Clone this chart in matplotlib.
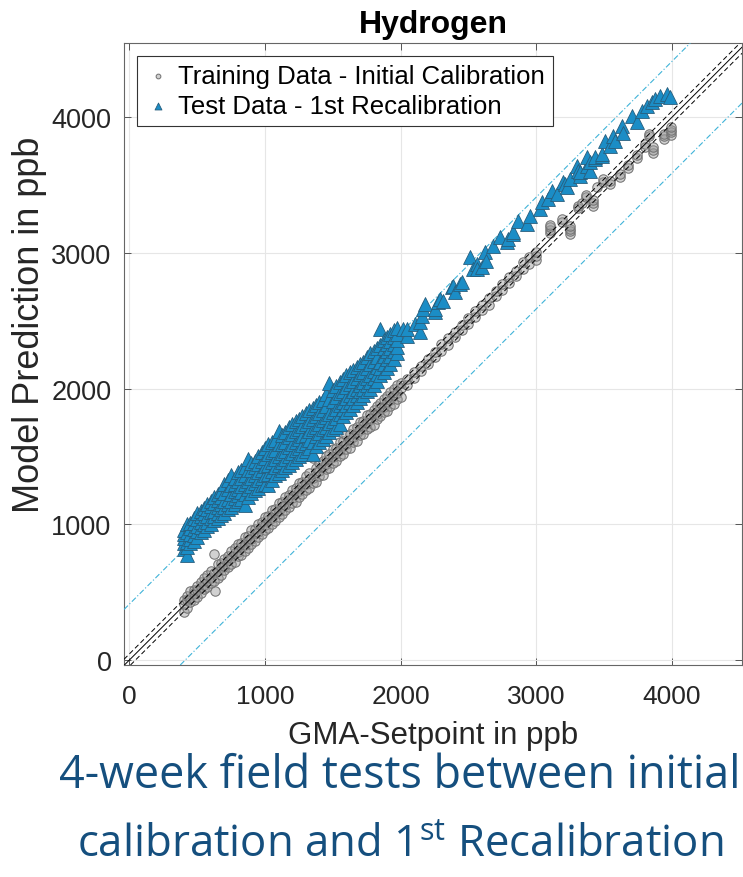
import matplotlib
matplotlib.use("Agg")
import matplotlib.pyplot as plt

plt.rcParams['font.family'] = ['Liberation Sans', 'DejaVu Sans']
plt.rcParams['mathtext.fontset'] = 'custom'
plt.rcParams['mathtext.rm'] = 'Open Sans'

# ---------------- data ----------------
title = "Hydrogen"
xlabel = "GMA-Setpoint in ppb"
ylabel = "Model Prediction in ppb"
legend_labels = ["Training Data - Initial Calibration", "Test Data - 1st Recalibration"]
ticks = [0, 1000, 2000, 3000, 4000]
ref_dashed_offset = [-45, 45]
ref_dashdot_offset = [-412, 412]

train_x = [
    400, 400, 400, 425, 425, 425, 450, 450, 450, 475, 475, 475, 500, 500, 500,
    525, 525, 525, 550, 550, 550, 575, 575, 575, 600, 600, 600, 625, 625, 625,
    630, 650, 650, 650, 675, 675, 675, 700, 700, 700, 725, 725, 725, 750, 750, 750,
    775, 775, 775, 800, 800, 800, 825, 825, 825, 850, 850, 850, 875, 875, 875,
    900, 900, 900, 925, 925, 925, 950, 950, 950, 975, 975, 975, 1000, 1000, 1000,
    1025, 1025, 1025, 1050, 1050, 1050, 1075, 1075, 1075, 1100, 1100, 1100,
    1125, 1125, 1125, 1150, 1150, 1150, 1175, 1175, 1175, 1200, 1200, 1200,
    1225, 1225, 1225, 1250, 1250, 1250, 1275, 1275, 1275, 1300, 1300, 1300,
    1325, 1325, 1325, 1350, 1350, 1350, 1375, 1375, 1375, 1400, 1400, 1400,
    1425, 1425, 1425, 1450, 1450, 1450, 1475, 1475, 1475, 1500, 1500, 1500,
    1525, 1525, 1525, 1550, 1550, 1550, 1575, 1575, 1575, 1600, 1600, 1600,
    1625, 1625, 1625, 1650, 1650, 1650, 1675, 1675, 1675, 1700, 1700, 1700,
    1725, 1725, 1725, 1750, 1750, 1750, 1775, 1775, 1775, 1800, 1800, 1800,
    1825, 1825, 1825, 1850, 1850, 1850, 1875, 1875, 1875, 1900, 1900, 1900,
    1925, 1925, 1925, 1950, 1950, 1950, 1975, 1975, 1975, 2000, 2000, 2000,
    2050, 2050, 2100, 2100, 2150, 2150, 2200, 2200, 2250, 2250, 2300, 2300,
    2350, 2350, 2400, 2400, 2450, 2450, 2500, 2500, 2550, 2550, 2600, 2600,
    2650, 2650, 2700, 2700, 2750, 2750, 2800, 2800, 2850, 2850, 2900, 2900,
    2950, 2950, 3000, 3000, 3000, 3100, 3100, 3100, 3100, 3190, 3190,
    3250, 3250, 3250, 3250, 3310, 3310, 3340, 3370, 3370, 3420, 3420, 3420,
    3450, 3490, 3490, 3540, 3540, 3620, 3620, 3680, 3680, 3740, 3740,
    3800, 3800, 3830, 3830, 3860, 3860, 3860, 3940, 3940, 3940,
    3990, 3990, 3990, 3990,
]
train_y = [
    355, 410, 445, 385, 445, 470, 425, 455, 505, 440, 495, 515, 465, 515, 545,
    495, 535, 575, 525, 555, 605, 535, 585, 625, 565, 605, 655, 585, 640, 780,
    510, 605, 655, 705, 625, 685, 715, 665, 695, 745, 685, 735, 765, 705, 755, 805,
    725, 785, 825, 765, 795, 855, 775, 835, 865, 805, 845, 905, 825, 885, 915,
    855, 895, 955, 875, 935, 965, 905, 945, 1005, 925, 985, 1015, 955, 995, 1055,
    975, 1035, 1065, 1005, 1045, 1105, 1025, 1085, 1115, 1055, 1095, 1155,
    1075, 1125, 1165, 1105, 1145, 1205, 1125, 1185, 1215, 1155, 1195, 1255,
    1165, 1235, 1265, 1205, 1245, 1305, 1225, 1285, 1315, 1255, 1295, 1355,
    1265, 1335, 1375, 1305, 1345, 1490, 1315, 1385, 1415, 1355, 1395, 1455,
    1365, 1425, 1465, 1405, 1445, 1505, 1415, 1485, 1515, 1455, 1495, 1555,
    1465, 1525, 1565, 1505, 1545, 1605, 1515, 1575, 1615, 1555, 1595, 1655,
    1565, 1625, 1665, 1605, 1645, 1705, 1615, 1675, 1715, 1655, 1695, 1755,
    1665, 1725, 1765, 1705, 1745, 1805, 1715, 1775, 1815, 1735, 1805, 1845,
    1775, 1815, 1875, 1795, 1855, 1895, 1825, 1865, 1925, 1835, 1905, 1945,
    1875, 1915, 1975, 1885, 1955, 1995, 1925, 1965, 2025, 1935, 2005, 2045,
    2030, 2070, 2080, 2120, 2130, 2170, 2180, 2220, 2230, 2270, 2280, 2330,
    2320, 2370, 2380, 2420, 2430, 2470, 2480, 2520, 2530, 2570, 2580, 2620,
    2620, 2670, 2680, 2720, 2730, 2770, 2780, 2820, 2830, 2870, 2880, 2930,
    2920, 2970, 2950, 2980, 3010, 3150, 3170, 3190, 3210, 3230, 3250,
    3140, 3160, 3180, 3200, 3330, 3350, 3370, 3410, 3430, 3350, 3370, 3390,
    3490, 3520, 3545, 3510, 3530, 3560, 3580, 3630, 3650, 3700, 3720,
    3780, 3800, 3860, 3880, 3740, 3760, 3780, 3840, 3860, 3880,
    3870, 3890, 3910, 3930,
]

# dense part of the test set: setpoint with five readings each
test_dense_x = [
    400, 425, 450, 475, 500, 525, 550, 575, 600, 625, 650, 675, 700, 725, 750,
    775, 800, 825, 850, 875, 900, 925, 950, 975, 1000, 1025, 1050, 1075, 1100,
    1125, 1150, 1175, 1200, 1225, 1250, 1275, 1300, 1325, 1350, 1375, 1400,
    1425, 1450, 1475, 1500, 1525, 1550, 1575, 1600, 1625, 1650, 1675, 1700,
    1725, 1750, 1775, 1800, 1825, 1850, 1875, 1900, 1925, 1950, 1975,
]
test_dense_y = [
    [820, 860, 900, 930, 960], [775, 830, 870, 940, 1000], [860, 890, 930, 970, 1010],
    [880, 920, 965, 1010, 1050], [905, 950, 990, 1040, 1085], [940, 980, 1020, 1060, 1100],
    [960, 1000, 1045, 1085, 1120], [985, 1020, 1060, 1110, 1150], [1000, 1045, 1090, 1135, 1175],
    [1030, 1065, 1100, 1160, 1200], [1045, 1085, 1130, 1180, 1225], [1070, 1110, 1150, 1205, 1245],
    [1085, 1130, 1170, 1230, 1300], [1110, 1150, 1190, 1260, 1330], [1130, 1175, 1220, 1290, 1360],
    [1150, 1195, 1245, 1300, 1340], [1170, 1215, 1260, 1320, 1385], [1190, 1235, 1280, 1345, 1400],
    [1140, 1220, 1300, 1360, 1420], [1200, 1260, 1320, 1400, 1480], [1230, 1285, 1340, 1400, 1450],
    [1250, 1305, 1360, 1420, 1470], [1270, 1330, 1385, 1445, 1500], [1290, 1345, 1400, 1465, 1530],
    [1300, 1365, 1430, 1490, 1560], [1290, 1370, 1440, 1515, 1590], [1330, 1395, 1460, 1535, 1610],
    [1360, 1420, 1480, 1550, 1620], [1380, 1440, 1500, 1590, 1690], [1400, 1460, 1525, 1590, 1660],
    [1420, 1480, 1540, 1610, 1680], [1440, 1505, 1570, 1645, 1720], [1460, 1525, 1590, 1665, 1740],
    [1480, 1545, 1610, 1685, 1760], [1500, 1565, 1630, 1705, 1780], [1520, 1585, 1650, 1725, 1800],
    [1540, 1600, 1660, 1740, 1820], [1560, 1625, 1690, 1765, 1840], [1520, 1610, 1700, 1780, 1860],
    [1580, 1650, 1720, 1800, 1880], [1610, 1675, 1740, 1820, 1900], [1630, 1700, 1770, 1845, 1920],
    [1650, 1720, 1790, 1875, 1960], [1680, 1745, 1810, 1925, 2040], [1700, 1765, 1830, 1910, 1990],
    [1720, 1785, 1850, 1935, 2020], [1740, 1810, 1880, 1965, 2050], [1800, 1850, 1900, 1985, 2070],
    [1830, 1880, 1930, 2015, 2100], [1850, 1900, 1950, 2035, 2120], [1880, 1930, 1980, 2060, 2140],
    [1900, 1950, 2000, 2080, 2160], [1930, 1980, 2030, 2105, 2180], [1950, 2000, 2050, 2125, 2200],
    [1980, 2030, 2080, 2155, 2230], [2000, 2050, 2100, 2180, 2260], [2030, 2080, 2130, 2205, 2280],
    [2060, 2110, 2160, 2230, 2300], [2100, 2150, 2200, 2320, 2440], [2120, 2180, 2240, 2300, 2360],
    [2150, 2215, 2280, 2330, 2380], [2180, 2240, 2300, 2350, 2400], [2220, 2275, 2330, 2380, 2430],
    [2260, 2310, 2360, 2405, 2450],
]
# sparse part of the test set
test_sparse_x = [
    2019, 2044, 2044, 2105, 2142, 2142, 2154, 2167, 2179, 2253, 2253, 2277,
    2290, 2314, 2376, 2388, 2400, 2437, 2450, 2511, 2536, 2560, 2560, 2597,
    2622, 2629, 2683, 2732, 2781, 2794, 2830, 2830, 2867, 2929, 2953, 3027,
    3040, 3088, 3113, 3150, 3199, 3212, 3224, 3248, 3298, 3310, 3322, 3322,
    3372, 3372, 3396, 3396, 3433, 3433, 3482, 3482, 3507, 3543, 3568, 3580,
    3630, 3642, 3703, 3740, 3777, 3814, 3851, 3875, 3912, 3961, 3985,
]
test_sparse_y = [
    2439, 2390, 2439, 2476, 2415, 2488, 2537, 2587, 2623, 2562, 2587, 2636,
    2660, 2648, 2746, 2758, 2710, 2771, 2783, 2968, 2881, 2918, 2881, 2894,
    3004, 2942, 3053, 3115, 3078, 3102, 3139, 3154, 3237, 3213, 3274, 3323,
    3373, 3397, 3458, 3434, 3520, 3508, 3483, 3545, 3643, 3606, 3569, 3594,
    3643, 3704, 3606, 3668, 3692, 3704, 3716, 3729, 3827, 3790, 3864, 3827,
    3937, 3888, 4011, 3962, 4048, 4085, 4110, 4134, 4158, 4171, 4150,
]

test_x = [x for x, ys in zip(test_dense_x, test_dense_y) for _ in ys] + test_sparse_x
test_y = [y for ys in test_dense_y for y in ys] + test_sparse_y

# ---------------- figure ----------------
W, H = 743, 878
fig = plt.figure(figsize=(W / 100, H / 100), dpi=100)
ax = fig.add_axes([124 / W, 1 - 666 / H, 618 / W, 622 / H])

xlim = (-40, 4517)
ylim = (-37, 4548)

ax.scatter(train_x, train_y, s=46, marker='o', facecolors=(0.6, 0.6, 0.6, 0.45),
           edgecolors='#747474', linewidths=0.75, zorder=2, label=legend_labels[0])

ax.axline((0, 0), slope=1, color='black', lw=0.7, zorder=3)
for off in ref_dashed_offset:
    ax.axline((0, off), slope=1, color='black', lw=0.7, ls=(0, (5, 3)), zorder=3)
for off in ref_dashdot_offset:
    ax.axline((0, off), slope=1, color='#3fb3d8', lw=0.8, ls=(0, (5, 2, 1, 2)), zorder=3)

ax.scatter(test_x, test_y, s=100, marker='^', facecolors='#1b8dc6',
           edgecolors='#275d7c', linewidths=0.6, zorder=4, label=legend_labels[1])

ax.set_xlim(*xlim)
ax.set_ylim(*ylim)
ax.set_xticks(ticks)
ax.set_yticks(ticks)
ax.grid(True, color='#e6e6e6', lw=0.8)
ax.set_axisbelow(True)
ax.tick_params(direction='in', length=5, width=0.7, top=True, right=True,
               colors='#555555', labelcolor='#262626')
ax.tick_params(axis='x', labelsize=19, pad=14)
ax.tick_params(axis='y', labelsize=19.5, pad=9)
for sp in ax.spines.values():
    sp.set_color('#666666')
    sp.set_linewidth(0.8)

ax.set_title(title, fontsize=23, fontweight='bold', pad=8)
ax.set_xlabel(xlabel, fontsize=22.5, color='#262626', labelpad=8)
ax.set_ylabel(ylabel, fontsize=26, color='#262626')
ax.yaxis.set_label_coords(-(124 - 47) / 618, (666 - 325) / 622)

leg = ax.legend(loc='upper left', bbox_to_anchor=(0.021, 0.979), fontsize=18.5,
                frameon=True, fancybox=False, framealpha=1, edgecolor='#333333',
                borderpad=0.3, labelspacing=0.25, handletextpad=0.3,
                handlelength=1.0, markerscale=0.5, borderaxespad=0)
leg.get_frame().set_linewidth(0.8)

cap_color = '#154f7e'
fig.text(400 / W, 1 - 776 / H, "4-week field tests between initial", ha='center',
         va='center', fontsize=32.3, color=cap_color, family='Open Sans')
fig.text(400 / W, 1 - 846 / H, "calibration and 1$^{\\mathrm{st}}$ Recalibration",
         ha='center', va='center', fontsize=31.5, color=cap_color, family='Open Sans')

fig.savefig("out.png", dpi=100)
